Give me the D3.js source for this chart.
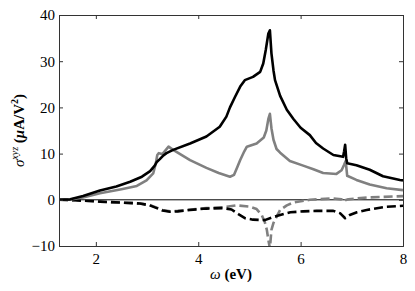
<!DOCTYPE html>
<html>
<head>
<meta charset="utf-8">
<script src="https://cdn.jsdelivr.net/npm/d3@7"></script>
<style>
  body { margin: 0; background: #fff; }
  svg text { font-family: 'Liberation Serif', 'Times New Roman', 'DejaVu Serif', serif !important; }
</style>
</head>
<body>
<svg id="chart" width="415" height="291"></svg>
<script>
// x ticks / y ticks
const xTicks = [2, 4, 6, 8];
const yTicks = [-10, 0, 10, 20, 30, 40];

// black solid
const blackOmega = [1.28, 1.50, 1.75, 2.08, 2.40, 2.67, 2.90, 3.06, 3.15, 3.19, 3.25, 3.32, 3.38, 3.51, 3.84, 4.16, 4.42, 4.55, 4.62, 4.72, 4.82, 4.91, 5.07, 5.21, 5.27, 5.32, 5.37, 5.40, 5.43, 5.47, 5.50, 5.60, 5.73, 5.86, 6.00, 6.18, 6.30, 6.44, 6.64, 6.83, 6.85, 6.87, 6.89, 6.91, 7.09, 7.35, 7.61, 7.94, 8.00];
const blackSigma = [0, 0.1, 0.8, 2.0, 2.9, 3.9, 5.0, 6.2, 7.4, 8.2, 8.8, 9.6, 10.1, 10.8, 12.2, 13.7, 15.8, 18.0, 20.0, 22.3, 24.5, 25.9, 26.6, 27.7, 29.5, 32.5, 36.0, 36.7, 31.7, 28.0, 25.9, 22.5, 19.5, 17.5, 15.6, 14.0, 12.3, 11.1, 9.7, 9.3, 10.5, 11.9, 9.0, 7.9, 7.5, 6.5, 5.1, 4.3, 4.2];

// gray solid
const grayOmega = [1.28, 1.50, 1.75, 2.08, 2.50, 2.80, 2.99, 3.12, 3.17, 3.20, 3.23, 3.30, 3.36, 3.42, 3.51, 3.84, 4.16, 4.40, 4.62, 4.70, 4.76, 4.82, 4.90, 4.95, 5.14, 5.28, 5.33, 5.37, 5.40, 5.43, 5.47, 5.53, 5.60, 5.79, 6.05, 6.25, 6.44, 6.70, 6.80, 6.85, 6.88, 6.91, 7.09, 7.35, 7.68, 8.00];
const graySigma = [0, 0.05, 0.5, 1.4, 2.3, 3.0, 4.2, 5.7, 7.8, 9.7, 10.1, 9.9, 10.7, 11.5, 10.8, 8.6, 6.9, 5.8, 5.0, 5.4, 7.0, 8.6, 10.5, 11.5, 12.2, 13.5, 15.0, 17.5, 18.6, 15.5, 13.0, 11.0, 10.2, 8.4, 7.4, 6.6, 5.8, 5.6, 6.4, 7.6, 8.4, 5.2, 4.3, 3.3, 2.5, 2.1];

// black dashed
const blackDashOmega = [1.28, 1.60, 2.08, 2.50, 2.86, 3.05, 3.19, 3.30, 3.45, 3.60, 3.84, 4.16, 4.49, 4.65, 4.80, 4.92, 5.07, 5.30, 5.47, 5.60, 5.80, 6.05, 6.31, 6.64, 6.77, 6.87, 6.96, 7.10, 7.29, 7.68, 8.00];
const blackDashSigma = [0, -0.1, -0.4, -0.6, -0.8, -1.2, -1.8, -2.3, -2.6, -2.5, -2.2, -1.9, -1.8, -2.1, -3.2, -4.0, -4.3, -4.4, -3.7, -3.3, -2.7, -2.5, -2.4, -2.4, -2.9, -4.0, -3.3, -2.7, -2.2, -1.5, -1.3];

// gray dashed
const grayDashOmega = [1.28, 1.60, 2.08, 2.50, 2.86, 3.05, 3.19, 3.30, 3.45, 3.60, 3.84, 4.16, 4.49, 4.75, 5.01, 5.14, 5.24, 5.30, 5.34, 5.37, 5.40, 5.43, 5.47, 5.53, 5.60, 5.73, 5.86, 6.18, 6.64, 6.80, 6.83, 6.87, 6.93, 7.29, 8.00];
const grayDashSigma = [0, -0.1, -0.4, -0.6, -0.8, -1.1, -1.7, -2.2, -2.5, -2.4, -2.1, -1.8, -1.6, -1.2, -1.5, -2.0, -3.3, -4.8, -6.5, -8.7, -10.5, -6.5, -5.0, -3.7, -2.2, -1.2, -0.6, 0.0, 0.3, 0.1, -0.4, -0.1, 0.1, 0.5, 0.8];

const margin = { left: 59, right: 12, top: 15, bottom: 45 };
const W = 415, H = 291;
const svg = d3.select('#chart');

const x = d3.scaleLinear().domain([1.28, 8]).range([margin.left, W - margin.right]);
const y = d3.scaleLinear().domain([-10, 40]).range([H - margin.bottom, margin.top]);

svg.append('clipPath').attr('id', 'clip')
  .append('rect')
  .attr('x', x.range()[0]).attr('y', y.range()[1])
  .attr('width', x.range()[1] - x.range()[0])
  .attr('height', y.range()[0] - y.range()[1]);

const plot = svg.append('g').attr('clip-path', 'url(#clip)');

// zero line
plot.append('line')
  .attr('x1', x.range()[0]).attr('x2', x.range()[1])
  .attr('y1', y(0)).attr('y2', y(0))
  .attr('stroke', '#000').attr('stroke-width', 1);

const line = d3.line().x(d => x(d[0])).y(d => y(d[1]));
const zip = (a, b) => a.map((v, i) => [v, b[i]]);

const series = [
  { om: grayDashOmega, s: grayDashSigma, color: '#808080', dash: '9,4' },
  { om: blackDashOmega, s: blackDashSigma, color: '#000', dash: '9,4' },
  { om: grayOmega, s: graySigma, color: '#808080', dash: null },
  { om: blackOmega, s: blackSigma, color: '#000', dash: null }
];
series.forEach(sr => {
  plot.append('path')
    .datum(zip(sr.om, sr.s))
    .attr('d', line)
    .attr('fill', 'none')
    .attr('stroke', sr.color)
    .attr('stroke-width', 2.6)
    .attr('stroke-linejoin', 'round')
    .attr('stroke-dasharray', sr.dash);
});

// axes, ticks inward on all four sides
const tk = 4;
const axB = svg.append('g').attr('transform', `translate(0,${y.range()[0]})`)
  .call(d3.axisBottom(x).tickValues(xTicks).tickSize(-tk).tickPadding(6).tickFormat(d3.format('d')));
const axT = svg.append('g').attr('transform', `translate(0,${y.range()[1]})`)
  .call(d3.axisTop(x).tickValues(xTicks).tickSize(-tk).tickFormat(''));
const axL = svg.append('g').attr('transform', `translate(${x.range()[0]},0)`)
  .call(d3.axisLeft(y).tickValues(yTicks).tickSize(-tk).tickPadding(4).tickFormat(d => d < 0 ? '\u2212' + Math.abs(d) : d));
const axR = svg.append('g').attr('transform', `translate(${x.range()[1]},0)`)
  .call(d3.axisRight(y).tickValues(yTicks).tickSize(-tk).tickFormat(''));

[axB, axT, axL, axR].forEach(a => {
  a.attr('font-family', null).attr('font-size', 15);
  a.select('.domain').attr('stroke', '#333').attr('stroke-width', 1);
  a.selectAll('.tick line').attr('stroke', '#333');
  a.selectAll('text').attr('fill', '#000');
});
axB.selectAll('text').attr('dy', '0.8em');

// x label
const xl = svg.append('text')
  .attr('x', (x.range()[0] + x.range()[1]) / 2)
  .attr('y', 279)
  .attr('text-anchor', 'middle')
  .attr('font-size', 15);
xl.append('tspan').attr('font-style', 'italic').text('ω');
xl.append('tspan').attr('font-weight', 'bold').text(' (eV)');

// y label
const yl = svg.append('text')
  .attr('transform', `translate(24,${(y.range()[0] + y.range()[1]) / 2}) rotate(-90)`)
  .attr('text-anchor', 'middle')
  .attr('font-size', 15);
yl.append('tspan').attr('font-style', 'italic').text('σ');
yl.append('tspan').attr('font-style', 'italic').attr('font-size', 10).attr('dy', -6).text('xyz');
yl.append('tspan').attr('font-weight', 'bold').attr('dy', 6).text(' (');
yl.append('tspan').attr('font-style', 'italic').attr('font-weight', 'bold').text('μ');
yl.append('tspan').attr('font-weight', 'bold').text('A/V');
yl.append('tspan').attr('font-weight', 'bold').attr('font-size', 10).attr('dy', -6).text('2');
yl.append('tspan').attr('font-weight', 'bold').attr('dy', 6).text(')');
</script>
</body>
</html>
